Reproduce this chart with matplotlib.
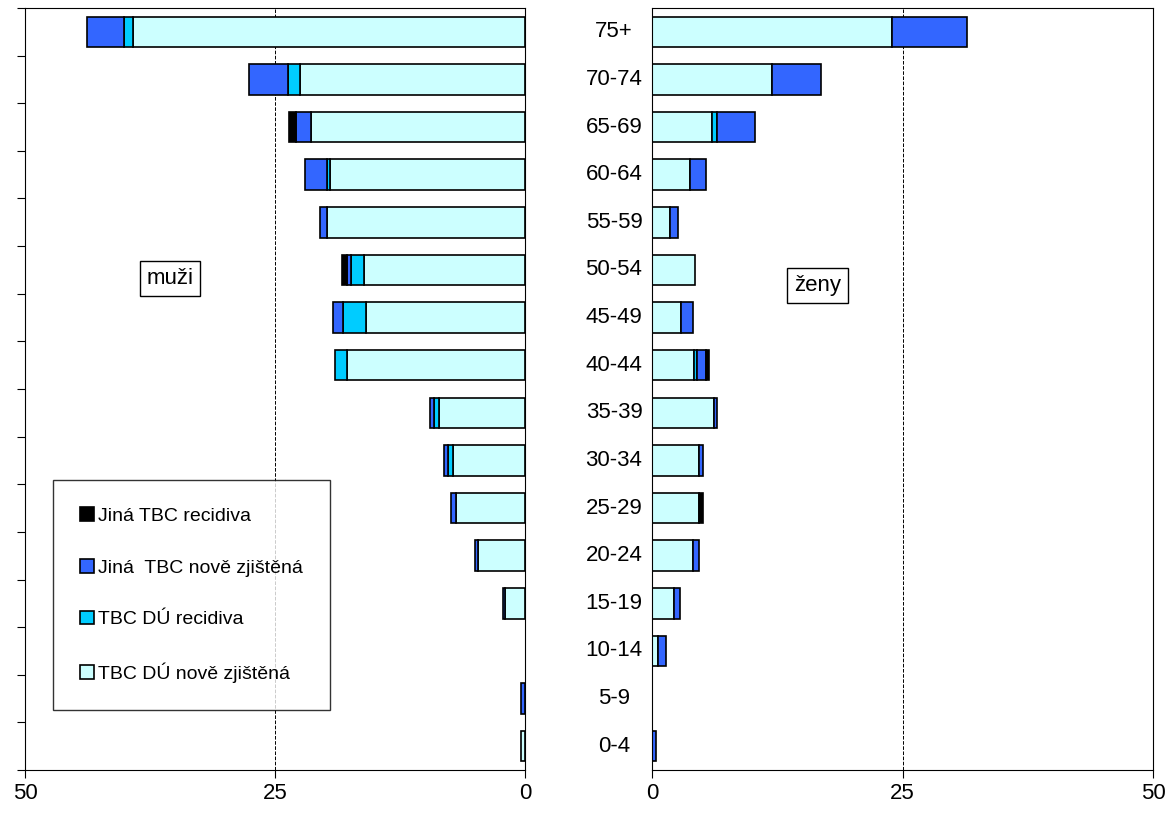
import numpy as np
import matplotlib.pyplot as plt
from matplotlib.transforms import blended_transform_factory

vek = ["0-4", "5-9", "10-14", "15-19", "20-24", "25-29", "30-34", "35-39",
       "40-44", "45-49", "50-54", "55-59", "60-64", "65-69", "70-74", "75+"]

# muži (hodnoty segmentů)
m_du_nove = [0.4, 0, 0, 2.0, 4.7, 6.9, 7.2, 8.6, 17.8, 15.9, 16.1, 19.8, 19.5, 21.4, 22.5, 39.2]
m_du_rec = [0, 0, 0, 0, 0, 0, 0.5, 0.5, 1.2, 2.3, 1.3, 0, 0.3, 0, 1.2, 0.9]
m_jina_nove = [0, 0.4, 0, 0.2, 0.3, 0.5, 0.4, 0.4, 0, 1.0, 0.4, 0.7, 2.2, 1.5, 3.9, 3.7]
m_jina_rec = [0, 0, 0, 0, 0, 0, 0, 0, 0, 0, 0.5, 0, 0, 0.7, 0, 0]

# ženy
z_du_nove = [0, 0, 0.6, 2.2, 4.1, 4.7, 4.7, 6.2, 4.2, 2.9, 4.3, 1.8, 3.8, 6.0, 12.0, 24.0]
z_du_rec = [0, 0, 0, 0, 0, 0, 0, 0, 0.3, 0, 0, 0, 0, 0.5, 0, 0]
z_jina_nove = [0.4, 0, 0.8, 0.6, 0.6, 0, 0.4, 0.3, 0.9, 1.2, 0, 0.8, 1.6, 3.8, 4.9, 7.4]
z_jina_rec = [0, 0, 0, 0, 0, 0.4, 0, 0, 0.3, 0, 0, 0, 0, 0, 0, 0]

nazvy = ["TBC DÚ nově zjištěná", "TBC DÚ recidiva", "Jiná  TBC nově zjištěná", "Jiná TBC recidiva"]
barvy = ["#ccffff", "#00ccff", "#3366ff", "#000000"]

plt.rcParams['font.family'] = ['Liberation Sans', 'DejaVu Sans']
fig = plt.figure(figsize=(11.7, 8.21), dpi=100)
axL = fig.add_axes([25/1170, 51/821, 500/1170, 762/821])
axR = fig.add_axes([652/1170, 51/821, 501/1170, 762/821])
y = np.arange(len(vek))

def kresli(ax, serie):
    left = np.zeros(len(vek))
    handles = []
    for s, c, n in zip(serie, barvy, nazvy):
        s = np.array(s, dtype=float)
        nz = s > 0
        ax.barh(y[nz], s[nz], left=left[nz], height=0.64, color=c, edgecolor="black", linewidth=1.2)
        handles.append(plt.Rectangle((0, 0), 1, 1, facecolor=c, edgecolor="black", linewidth=1.2))
        left += s
    ax.set_ylim(-0.5, len(vek) - 0.5)
    ax.set_xlim(0, 50)
    ax.set_xticks([0, 25, 50])
    ax.axvline(25, color="black", linestyle="--", linewidth=0.7, zorder=0)
    ax.tick_params(labelsize=16, length=6, direction="out")
    return handles

hL = kresli(axL, [m_du_nove, m_du_rec, m_jina_nove, m_jina_rec])
axL.invert_xaxis()
axL.set_yticks(np.arange(len(vek) + 1) - 0.5)
axL.set_yticklabels([])
kresli(axR, [z_du_nove, z_du_rec, z_jina_nove, z_jina_rec])
axR.set_yticks([])
tr = blended_transform_factory(fig.transFigure, axR.transData)
for i, v in enumerate(vek):
    fig.text(614/1170, i, v, transform=tr, fontsize=16, ha="center", va="center")

axL.text(0.29, 0.645, "muži", transform=axL.transAxes, fontsize=16, ha="center", va="center",
         bbox=dict(facecolor="white", edgecolor="black", pad=5))
axR.text(0.33, 0.636, "ženy", transform=axR.transAxes, fontsize=16, ha="center", va="center",
         bbox=dict(facecolor="white", edgecolor="black", pad=5))

leg = axL.legend(hL[::-1], nazvy[::-1], loc="lower left",
                 bbox_to_anchor=(53/1170, 111/821), bbox_transform=fig.transFigure,
                 fontsize=14, frameon=True, fancybox=False, edgecolor="black",
                 handlelength=0.7, handleheight=0.7, handletextpad=0.2, labelspacing=1.75,
                 borderpad=1.4, borderaxespad=0)
leg.get_frame().set_linewidth(1.0)

fig.savefig("out.png", dpi=100)
